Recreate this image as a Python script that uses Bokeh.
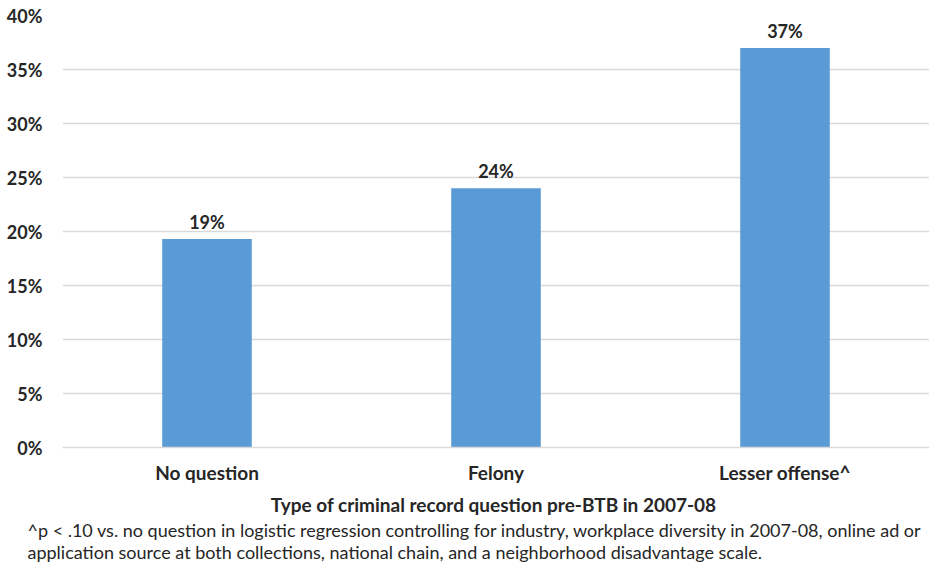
from bokeh.plotting import figure
from bokeh.models import (ColumnDataSource, FactorRange, FixedTicker,
                          PrintfTickFormatter, Title)
from bokeh.core.properties import value
from bokeh.embed import file_html
from bokeh.resources import INLINE

# Share of applications receiving a callback, by the criminal record question asked
categories = ["No question", "Felony", "Lesser offense^"]
callback_pct = [19.3, 24.0, 37.0]
y_ticks = [0, 5, 10, 15, 20, 25, 30, 35, 40]

x_title = "Type of criminal  record question pre-BTB in 2007-08"
note_lines = [
    "^p < .10 vs. no question in logistic regression controlling for industry, workplace diversity in 2007-08, online ad or",
    "application source at both collections, national chain, and a neighborhood disadvantage scale.",
]

FONT = "Lato"
TEXT = "#262626"
BAR = "#5B9BD5"
GRID = "#d9d9d9"

source = ColumnDataSource(dict(
    cat=categories,
    val=callback_pct,
    lbl=[f"{round(v)}%" for v in callback_pct],
))

p = figure(width=929, height=566, output_backend="svg", toolbar_location=None,
           x_range=FactorRange(*categories, range_padding=0),
           y_range=(0, 40),
           min_border_left=62, min_border_right=0,
           min_border_top=15, min_border_bottom=119)
p.outline_line_color = None
p.background_fill_color = "white"
p.border_fill_color = "white"

p.vbar(x="cat", top="val", width=0.31, source=source,
       fill_color=BAR, line_color=None)
p.text(x="cat", y="val", text="lbl", source=source,
       text_align="center", text_baseline="bottom", y_offset=-6,
       text_font=value(FONT), text_font_style="bold", text_font_size="18px",
       text_color=TEXT)

# y axis
p.yaxis.ticker = FixedTicker(ticks=y_ticks)
p.yaxis.formatter = PrintfTickFormatter(format="%d%%")
p.yaxis.axis_line_color = None
p.yaxis.major_tick_line_color = None
p.yaxis.minor_tick_line_color = None
p.yaxis.major_tick_out = 0
p.yaxis.major_label_standoff = 20
p.yaxis.major_label_text_font = FONT
p.yaxis.major_label_text_font_style = "bold"
p.yaxis.major_label_text_font_size = "18px"
p.yaxis.major_label_text_color = TEXT

# x axis
p.xaxis.axis_line_color = GRID
p.xaxis.axis_line_width = 1.5
p.xaxis.major_tick_line_color = None
p.xaxis.minor_tick_line_color = None
p.xaxis.major_tick_out = 0
p.xaxis.major_label_standoff = 13
p.xaxis.major_label_text_font = FONT
p.xaxis.major_label_text_font_style = "bold"
p.xaxis.major_label_text_font_size = "19px"
p.xaxis.major_label_text_color = TEXT
p.xaxis.axis_label = x_title
p.xaxis.axis_label_standoff = 6
p.xaxis.axis_label_text_font = FONT
p.xaxis.axis_label_text_font_style = "bold"
p.xaxis.axis_label_text_font_size = "19px"
p.xaxis.axis_label_text_color = TEXT

p.xgrid.grid_line_color = None
p.ygrid.grid_line_color = GRID
p.ygrid.grid_line_width = 1.5

# footnote lines stacked beneath the axis title
for i, line in enumerate(note_lines):
    p.add_layout(Title(text=line, align="left", offset=-35,
                       standoff=-4 if i == 0 else 0,
                       text_font=FONT, text_font_style="normal",
                       text_font_size="18px", text_color=TEXT), "below")

open("out.html", "w").write(file_html(p, INLINE))
